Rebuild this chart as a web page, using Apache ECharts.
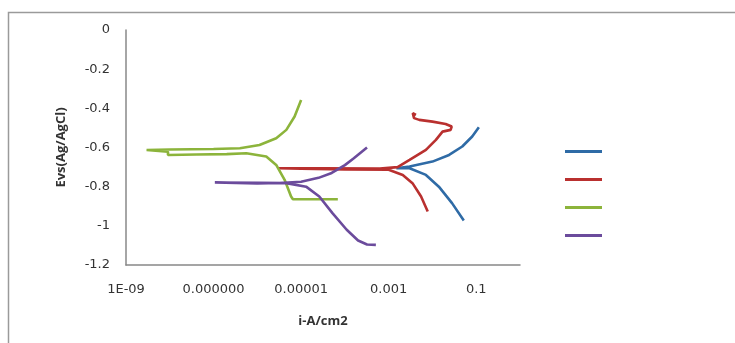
<!DOCTYPE html>
<html>
<head>
<meta charset="utf-8">
<script src="https://cdn.jsdelivr.net/npm/echarts@6/dist/echarts.min.js"></script>
<style>
  html, body { margin: 0; padding: 0; background: #fff; }
  #chart { width: 735px; height: 343px; }
</style>
</head>
<body>
<div id="chart"></div>
<script>
// x tick labels (every second decade, as in the original Excel export)
const tickExps = [-9, -7, -5, -3, -1];
const tickLabels = ['1E-09', '0.000000', '0.00001', '0.001', '0.1'];

// blue curve: current density (A/cm2) and potential (V vs Ag/AgCl)
const blueI = [5.2e-2, 2.8e-2, 1.4e-2, 7.1e-3, 3.0e-3, 1.5e-3, 3.0e-3, 1.0e-2, 2.4e-2, 4.8e-2, 8.1e-2, 1.15e-1];
const blueE = [-0.973, -0.884, -0.80, -0.74, -0.706, -0.706, -0.697, -0.672, -0.638, -0.595, -0.544, -0.497];

// red curve
const redI = [7.8e-3, 5.5e-3, 3.5e-3, 2.1e-3, 1.0e-3, 1.0e-4, 1.0e-5, 3.0e-6, 3.0e-5, 6.3e-4, 1.6e-3, 3.0e-3,
              7.1e-3, 1.2e-2, 1.7e-2, 2.6e-2, 2.75e-2, 2.0e-2, 1.0e-2, 5.0e-3, 3.8e-3, 3.55e-3, 4.2e-3];
const redE = [-0.927, -0.85, -0.782, -0.74, -0.714, -0.712, -0.708, -0.706, -0.706, -0.708, -0.70, -0.663,
              -0.612, -0.561, -0.519, -0.510, -0.493, -0.480, -0.468, -0.459, -0.45, -0.425, -0.434];

// green curve
const greenI = [6.9e-5, 6.5e-6, 5.9e-6, 4.2e-6, 2.7e-6, 1.6e-6, 5.6e-7, 2.0e-7, 4.0e-8, 9.1e-9, 9.1e-9, 2.95e-9,
                1.0e-8, 1.0e-7, 4.0e-7, 1.12e-6, 2.7e-6, 4.6e-6, 7.1e-6, 1.0e-5];
const greenE = [-0.864, -0.864, -0.850, -0.765, -0.689, -0.646, -0.629, -0.634, -0.636, -0.638, -0.622, -0.613,
                -0.610, -0.608, -0.604, -0.587, -0.553, -0.510, -0.442, -0.357];

// purple curve
const purpleI = [5.1e-4, 3.2e-4, 2.0e-4, 1.1e-4, 5.2e-5, 2.6e-5, 1.3e-5, 4.6e-6, 1.07e-6, 1.07e-7,
                 1.0e-6, 3.2e-6, 1.0e-5, 2.5e-5, 5.0e-5, 1.0e-4, 1.6e-4, 3.2e-4];
const purpleE = [-1.097, -1.095, -1.075, -1.02, -0.935, -0.85, -0.80, -0.782, -0.780, -0.779,
                 -0.783, -0.781, -0.775, -0.755, -0.73, -0.69, -0.655, -0.60];

const colors = ['#2f6ba6', '#b9302f', '#8cb43b', '#6b4b9c'];

const pairs = (xs, ys) => xs.map((x, i) => [x, ys[i]]);

const chartDom = document.getElementById('chart');
const myChart = echarts.init(chartDom);

const axisFont = { fontFamily: 'DejaVu Sans', fontSize: 13, color: '#333' };
const titleFont = { fontFamily: 'Open Sans', fontSize: 13, fontWeight: 'bold', color: '#333' };
const axisLine = { show: true, onZero: false, lineStyle: { color: '#888', width: 1.5 } };

myChart.setOption({
    animation: false,
    color: colors,
    graphic: [{
        type: 'rect',
        shape: { x: 8.5, y: 12.5, width: 800, height: 400 },
        style: { fill: 'none', stroke: '#9a9a9a', lineWidth: 1.5 },
        silent: true
    }],
    grid: { left: 126, top: 30, right: 215, bottom: 78 },
    legend: {
        orient: 'vertical',
        left: 560,
        top: 145,
        icon: 'rect',
        itemWidth: 37,
        itemHeight: 3,
        itemGap: 25,
        formatter: () => '',
        textStyle: { fontSize: 12, lineHeight: 14 },
        data: ['s1', 's2', 's3', 's4']
    },
    xAxis: {
        type: 'log',
        logBase: 10,
        min: 1e-9,
        max: 1,
        name: 'i-A/cm2',
        nameLocation: 'middle',
        nameGap: 50,
        nameTextStyle: titleFont,
        axisLine: axisLine,
        axisTick: { show: false },
        splitLine: { show: false },
        axisLabel: {
            ...axisFont,
            margin: 18,
            formatter: v => {
                const k = tickExps.indexOf(Math.round(Math.log10(v)));
                return k >= 0 ? tickLabels[k] : '';
            }
        }
    },
    yAxis: {
        type: 'value',
        min: -1.2,
        max: 0,
        interval: 0.2,
        name: 'Evs(Ag/AgCl)',
        nameLocation: 'middle',
        nameGap: 58,
        nameTextStyle: titleFont,
        axisLine: axisLine,
        axisTick: { show: false },
        splitLine: { show: false },
        axisLabel: { ...axisFont, margin: 16 }
    },
    series: [
        { name: 's1', data: pairs(blueI, blueE) },
        { name: 's2', data: pairs(redI, redE) },
        { name: 's3', data: pairs(greenI, greenE) },
        { name: 's4', data: pairs(purpleI, purpleE) }
    ].map(s => ({
        ...s,
        type: 'line',
        showSymbol: false,
        symbol: 'none',
        smooth: false,
        lineStyle: { width: 2.6 }
    }))
});

new ResizeObserver(() => myChart.resize()).observe(chartDom);
</script>
</body>
</html>
